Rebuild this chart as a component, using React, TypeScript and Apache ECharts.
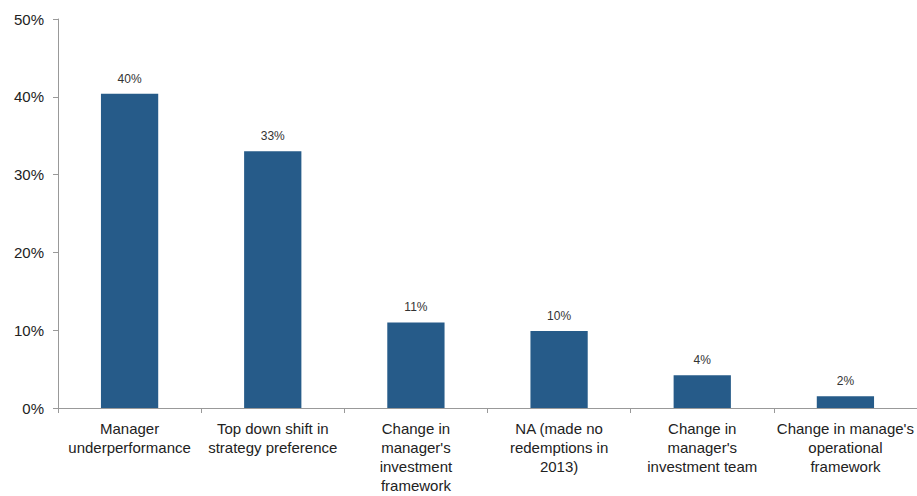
import React, { useEffect, useRef } from "react";
import * as echarts from "echarts";

const categories = [
  "Manager\nunderperformance",
  "Top down shift in\nstrategy preference",
  "Change in\nmanager's\ninvestment\nframework",
  "NA (made no\nredemptions in\n2013)",
  "Change in\nmanager's\ninvestment team",
  "Change in manage's\noperational\nframework",
];
const values = [40.4, 33, 11, 9.9, 4.2, 1.5];
const yTicks = [0, 10, 20, 30, 40, 50];

export default function App() {
  const ref = useRef<HTMLDivElement>(null);
  useEffect(() => {
    const chart = echarts.init(ref.current!, null, { renderer: "svg" });
    chart.setOption({
      animation: false,
      textStyle: { fontFamily: "Liberation Sans, Arial, sans-serif" },
      grid: { left: 58, right: 0, top: 19, bottom: 88, containLabel: false },
      xAxis: {
        type: "category",
        data: categories,
        axisLine: { lineStyle: { color: "#999", width: 1 } },
        axisTick: { show: true, length: 5, lineStyle: { color: "#999" } },
        axisLabel: {
          interval: 0,
          margin: 11,
          fontSize: 15,
          lineHeight: 19,
          color: "#222",
          fontFamily: "Liberation Sans, Arial, sans-serif",
        },
      },
      yAxis: {
        type: "value",
        min: yTicks[0],
        max: yTicks[yTicks.length - 1],
        interval: 10,
        splitLine: { show: false },
        axisLine: { show: true, lineStyle: { color: "#999", width: 1 } },
        axisTick: { show: true, length: 5, lineStyle: { color: "#999" } },
        axisLabel: {
          margin: 14,
          fontSize: 15,
          color: "#222",
          fontFamily: "Liberation Sans, Arial, sans-serif",
          formatter: (v: number) => `${v}%`,
        },
      },
      series: [
        {
          type: "bar",
          data: values,
          barWidth: "40%",
          itemStyle: { color: "#265b89" },
          label: {
            show: true,
            position: "top",
            distance: 9,
            fontSize: 12,
            color: "#333",
            fontFamily: "Liberation Sans, Arial, sans-serif",
            formatter: (p: any) => `${Math.round(p.value)}%`,
          },
        },
      ],
    });
    return () => chart.dispose();
  }, []);
  return (
    <div
      ref={ref}
      style={{ position: "fixed", left: 0, top: 0, width: 917, height: 496, background: "#fff" }}
    />
  );
}
